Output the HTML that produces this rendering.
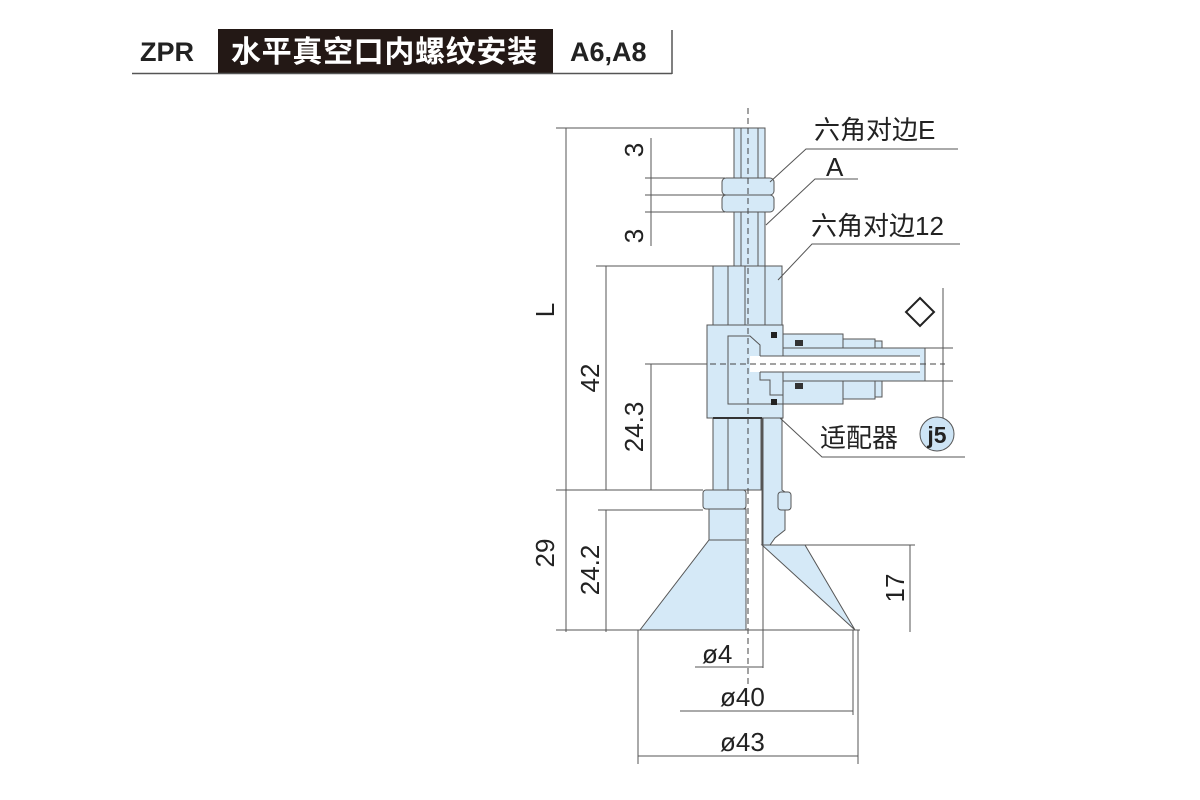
<!DOCTYPE html>
<html><head><meta charset="utf-8"><style>
html,body{margin:0;padding:0;background:#fff;width:1200px;height:800px;overflow:hidden}
svg{display:block}
text{font-family:"Liberation Sans","Noto Sans CJK SC",sans-serif;fill:#222}
</style></head><body>
<svg width="1200" height="800" viewBox="0 0 1200 800">
<!-- header -->
<rect x="218" y="29" width="335" height="44" fill="#231815"/>
<line x1="132" y1="73.5" x2="672" y2="73.5" stroke="#555" stroke-width="1.5"/>
<line x1="672" y1="30" x2="672" y2="74" stroke="#555" stroke-width="1.5"/>
<text x="140" y="61" font-size="27" font-weight="bold">ZPR</text>
<text x="231" y="62" font-size="30" font-weight="bold" style="fill:#fff" textLength="306">水平真空口内螺纹安装</text>
<text x="570" y="61" font-size="27" font-weight="bold">A6,A8</text>

<g stroke="#555" stroke-width="1" fill="#d5e9f7">
<!-- rod -->
<rect x="734" y="128" width="31" height="138"/>
<line x1="741" y1="128" x2="741" y2="266"/><line x1="758" y1="128" x2="758" y2="266"/>
<!-- nuts -->
<rect x="722" y="178" width="52" height="17" rx="4"/>
<rect x="722" y="195" width="52" height="17" rx="4"/>
<!-- hex body -->
<rect x="713" y="266" width="69" height="60"/>
<line x1="728" y1="266" x2="728" y2="326"/><line x1="745" y1="266" x2="745" y2="326"/><line x1="765" y1="266" x2="765" y2="326"/>
<!-- fitting -->
<rect x="783" y="334" width="60" height="70"/>
<rect x="843" y="339" width="32" height="60"/>
<rect x="875" y="341" width="7" height="56"/>
<rect x="775" y="348" width="150" height="33"/>
<!-- tee block -->
<rect x="707" y="325" width="76" height="93"/>
<path d="M728 336 H750 L760 345 V360 H775 V365 H760 V380 L770 380 V395 H783 V404 H728 Z" fill="#d5e9f7"/>
<rect x="750" y="356" width="170" height="16" fill="#fff" stroke="none"/>
<line x1="760" y1="356" x2="920" y2="356"/><line x1="760" y1="372" x2="920" y2="372"/>
<!-- lower hex -->
<rect x="713" y="418" width="48" height="72"/>
<line x1="728" y1="418" x2="728" y2="490"/>
<path d="M762 418 H782 V490 L785 492 V530 L775 538 L770 545 H762 Z"/>
<rect x="778" y="492" width="13" height="18" rx="3"/>
<!-- flange & neck -->
<rect x="703" y="490" width="43" height="19" rx="3"/>
<rect x="709" y="509" width="37" height="31"/>
<!-- cup -->
<polygon points="709,540 746,540 746,630 640,630"/>
<polygon points="762,545 805,545 855,630"/>
<line x1="763" y1="418" x2="763" y2="668"/>
</g>
<!-- seals -->
<rect x="771" y="332" width="6" height="6" fill="#222"/>
<rect x="771" y="399" width="6" height="6" fill="#222"/>
<rect x="795" y="340" width="8" height="6" fill="#333"/>
<rect x="795" y="383" width="8" height="6" fill="#333"/>
<line x1="713" y1="418" x2="762" y2="418" stroke="#333" stroke-width="2"/>
<!-- center lines -->
<line x1="748" y1="108" x2="748" y2="685" stroke="#444" stroke-width="1" stroke-dasharray="6,4"/>
<line x1="700" y1="364" x2="945" y2="364" stroke="#444" stroke-width="1" stroke-dasharray="6,4"/>

<g stroke="#555" stroke-width="1" fill="none">
<line x1="556" y1="128" x2="740" y2="128"/>
<line x1="566" y1="128" x2="566" y2="632"/>
<line x1="645" y1="178" x2="725" y2="178"/><line x1="645" y1="195" x2="725" y2="195"/><line x1="645" y1="212" x2="725" y2="212"/>
<line x1="651" y1="138" x2="651" y2="246"/>
<line x1="596" y1="266" x2="713" y2="266"/>
<line x1="606" y1="266" x2="606" y2="490"/>
<line x1="645" y1="364" x2="707" y2="364"/>
<line x1="651" y1="364" x2="651" y2="490"/>
<line x1="556" y1="490" x2="703" y2="490"/>
<line x1="598" y1="510" x2="703" y2="510"/>
<line x1="606" y1="510" x2="606" y2="632"/>
<line x1="556" y1="630" x2="860" y2="630"/>
<line x1="762" y1="545" x2="915" y2="545"/>
<line x1="910" y1="545" x2="910" y2="632"/>
<line x1="695" y1="667" x2="763" y2="667"/>
<line x1="680" y1="711" x2="853" y2="711"/>
<line x1="853" y1="630" x2="853" y2="715"/>
<line x1="638" y1="756" x2="858" y2="756"/>
<line x1="638" y1="630" x2="638" y2="764"/>
<line x1="858" y1="630" x2="858" y2="764"/>
<line x1="943" y1="288" x2="943" y2="420"/>
<line x1="905" y1="348" x2="953" y2="348"/><line x1="905" y1="381" x2="953" y2="381"/>
<!-- leaders -->
<polyline points="958,149 806,149 770,182"/>
<polyline points="858,179 815,179 766,225"/>
<polyline points="960,244 812,244 778,280"/>
<polyline points="965,457 822,457 780,418"/>
</g>
<polygon points="920,298 934,312 920,326 906,312" fill="none" stroke="#222" stroke-width="2"/>
<circle cx="937" cy="434" r="17" fill="#cde4f5" stroke="#555"/>
<text x="937" y="443" font-size="23" font-weight="bold" text-anchor="middle">j5</text>

<g font-size="26">
<text x="814" y="139">六角对边E</text>
<text x="826" y="176">A</text>
<text x="811" y="235">六角对边12</text>
<text x="820" y="447">适配器</text>
<text x="702" y="663">ø4</text>
<text x="720" y="706">ø40</text>
<text x="720" y="751">ø43</text>
<text transform="translate(554,310) rotate(-90)" text-anchor="middle">L</text>
<text transform="translate(643,150) rotate(-90)" text-anchor="middle">3</text>
<text transform="translate(643,236) rotate(-90)" text-anchor="middle">3</text>
<text transform="translate(599,378) rotate(-90)" text-anchor="middle">42</text>
<text transform="translate(643,427) rotate(-90)" text-anchor="middle">24.3</text>
<text transform="translate(554,553) rotate(-90)" text-anchor="middle">29</text>
<text transform="translate(599,570) rotate(-90)" text-anchor="middle">24.2</text>
<text transform="translate(904,588) rotate(-90)" text-anchor="middle">17</text>
</g>
</svg>
</body></html>
